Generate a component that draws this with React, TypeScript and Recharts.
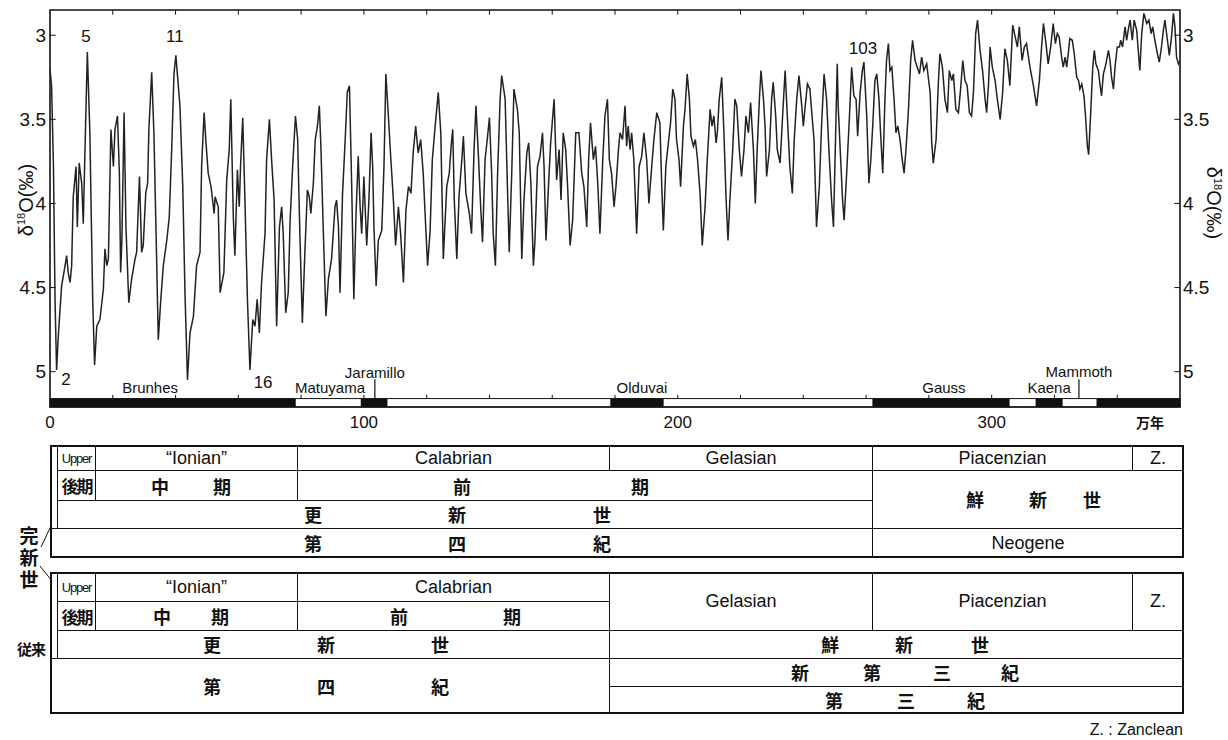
import {
  ComposedChart,
  Line,
  XAxis,
  YAxis,
  ReferenceArea,
  ReferenceLine,
  ReferenceDot,
} from "recharts";

// δ18O stack, [age in 万年, δ18O ‰]
const curve: [number, number][] = [
  [0, 3.2], [0.5, 3.3], [1.1, 3.78], [1.6, 4.57], [2.1, 4.99], [2.7, 4.77], [3.7, 4.49], [4.8, 4.37],
  [5.3, 4.31], [5.8, 4.41], [6.4, 4.47], [6.9, 4.37], [7.4, 3.96], [8.3, 3.78], [8.7, 4.14], [9.3, 3.76],
  [10.1, 3.88], [10.6, 4.12], [11.2, 3.64], [11.9, 3.1], [12.7, 3.58], [13.6, 4.57], [14.2, 4.96], [14.9, 4.73],
  [15.9, 4.69], [17.0, 4.51], [17.5, 4.27], [18.1, 4.37], [18.6, 4.33], [19.4, 3.56], [20.2, 3.78], [20.7, 3.56],
  [21.5, 3.48], [22.1, 3.82], [22.5, 4.41], [22.9, 4.22], [23.6, 3.46], [24.2, 4.14], [25.1, 4.59], [26.0, 4.45],
  [27.1, 4.33], [27.6, 4.29], [28.5, 3.84], [29.2, 4.29], [29.7, 4.25], [30.5, 3.94], [31.1, 3.88], [31.5, 3.56],
  [32.4, 3.22], [33.1, 3.58], [33.8, 4.18], [34.5, 4.81], [35.3, 4.57], [36.1, 4.37], [37.2, 4.22], [38.0, 4.08],
  [38.8, 3.66], [39.5, 3.23], [40.1, 3.12], [41.4, 3.42], [42.3, 3.9], [43.0, 4.53], [43.8, 5.05], [44.6, 4.77],
  [45.7, 4.67], [46.7, 4.37], [47.8, 4.29], [48.3, 3.78], [49.1, 3.46], [49.7, 3.64], [50.4, 3.82], [51.3, 3.9],
  [52.3, 4.06], [52.6, 3.96], [53.6, 4.02], [54.2, 4.53], [55.0, 4.45], [55.4, 4.41], [56.3, 3.86], [57.1, 3.68],
  [57.6, 3.38], [58.4, 4.08], [58.9, 4.31], [59.7, 3.8], [60.3, 4.02], [60.7, 3.78], [61.4, 3.49], [62.1, 3.98],
  [62.9, 4.57], [63.7, 4.99], [64.6, 4.69], [65.3, 4.73], [66.0, 4.57], [66.7, 4.77], [67.4, 4.47], [68.5, 4.18],
  [69.0, 3.74], [69.9, 3.5], [70.6, 3.74], [71.4, 3.98], [72.2, 4.73], [73.1, 4.14], [73.8, 4.02], [74.3, 4.18],
  [75.1, 4.65], [75.9, 4.53], [76.5, 4.1], [77.3, 3.78], [78.2, 3.48], [78.9, 3.62], [79.6, 4.18], [80.4, 4.71],
  [81.2, 4.29], [82.0, 3.92], [82.6, 3.96], [83.1, 4.06], [83.9, 3.88], [84.5, 3.62], [85.2, 3.54], [85.8, 3.42],
  [86.3, 3.66], [87.1, 4.18], [87.9, 4.67], [88.7, 4.45], [89.7, 4.33], [90.8, 4.02], [91.3, 3.98], [91.9, 4.14],
  [92.4, 4.53], [93.2, 3.94], [94.0, 3.64], [94.7, 3.34], [95.4, 3.3], [96.1, 3.88], [96.8, 4.57], [97.5, 4.06],
  [98.2, 3.72], [98.8, 4.02], [99.3, 4.18], [100.0, 3.84], [100.9, 4.25], [101.6, 3.98], [102.3, 3.58], [102.8, 3.78],
  [103.2, 4.14], [103.9, 4.49], [104.6, 4.22], [105.7, 4.16], [106.4, 3.78], [107.0, 3.23], [107.8, 3.48], [108.6, 3.74],
  [109.4, 3.98], [110.1, 4.25], [111.0, 4.02], [111.7, 4.18], [112.6, 4.47], [113.4, 4.04], [114.2, 3.9], [115.0, 3.94],
  [115.7, 3.7], [116.5, 3.54], [117.3, 3.7], [118.1, 3.62], [118.9, 3.82], [119.8, 4.18], [120.3, 4.37], [121.1, 4.16],
  [121.8, 3.74], [122.7, 3.54], [123.7, 3.34], [124.5, 3.58], [125.3, 4.33], [126.4, 3.9], [127.2, 3.82], [127.8, 3.66],
  [128.3, 3.56], [128.8, 3.98], [129.6, 4.33], [130.3, 3.96], [131.2, 3.74], [131.7, 3.6], [132.5, 3.94], [133.6, 4.06],
  [134.3, 4.18], [135.1, 3.68], [135.7, 3.42], [136.5, 3.72], [137.2, 4.02], [137.8, 4.23], [138.6, 3.74], [139.3, 3.62],
  [140.0, 3.49], [140.7, 3.82], [141.2, 4.18], [141.9, 4.37], [142.6, 3.82], [143.4, 3.38], [143.9, 3.24], [145.0, 3.38],
  [145.7, 3.88], [146.3, 4.29], [147.1, 3.82], [147.8, 3.32], [148.9, 3.44], [149.5, 3.58], [150.3, 4.33], [151.0, 3.98],
  [151.9, 3.7], [152.5, 3.64], [153.2, 3.88], [154.0, 4.37], [154.5, 4.22], [155.3, 3.78], [156.1, 3.72], [156.9, 3.58],
  [157.4, 3.78], [158.0, 4.22], [158.8, 3.9], [159.5, 3.64], [160.6, 3.38], [161.4, 3.86], [162.2, 3.68], [162.8, 3.98],
  [163.5, 3.58], [164.3, 3.68], [164.9, 3.9], [165.7, 4.25], [166.5, 4.1], [167.5, 3.58], [168.5, 3.58], [169.4, 3.82],
  [170.1, 3.9], [171.0, 4.14], [171.6, 3.74], [172.2, 3.52], [173.1, 3.74], [173.8, 3.66], [174.5, 3.88], [175.2, 4.18],
  [176.1, 3.74], [176.8, 3.48], [177.6, 3.38], [178.2, 3.74], [178.9, 3.82], [179.7, 4.02], [180.3, 3.9], [181.1, 3.68],
  [181.6, 3.58], [182.4, 3.62], [183.2, 3.42], [183.7, 3.66], [184.2, 3.54], [184.8, 3.68], [185.3, 3.58], [186.0, 3.74],
  [186.9, 4.18], [187.7, 3.78], [188.5, 3.72], [189.2, 3.58], [190.1, 3.74], [190.8, 4.0], [191.7, 3.78], [192.4, 3.62],
  [193.3, 3.46], [194.3, 3.52], [194.9, 3.9], [195.4, 4.16], [196.2, 3.78], [197.0, 3.64], [197.7, 3.52], [198.4, 3.32],
  [199.1, 3.38], [199.6, 3.62], [200.4, 3.74], [200.9, 3.9], [201.8, 3.54], [202.3, 3.44], [203.0, 3.23], [203.7, 3.38],
  [204.2, 3.6], [205.0, 3.66], [205.6, 3.62], [206.3, 3.74], [207.1, 3.94], [207.8, 4.25], [208.7, 4.02], [209.4, 3.74],
  [210.3, 3.44], [210.9, 3.54], [211.5, 3.48], [212.2, 3.64], [212.6, 3.58], [213.2, 3.38], [214.0, 3.25], [214.7, 3.58],
  [215.4, 3.98], [216.0, 4.22], [216.6, 3.98], [217.5, 3.68], [218.2, 3.38], [218.8, 3.42], [219.6, 3.68], [220.3, 3.84],
  [221.1, 3.68], [221.7, 3.48], [222.5, 3.58], [223.2, 3.4], [224.1, 3.68], [224.7, 4.0], [225.3, 3.68], [226.0, 3.38],
  [226.5, 3.21], [227.3, 3.38], [227.8, 3.54], [228.3, 3.84], [229.2, 3.68], [229.9, 3.38], [230.4, 3.28], [231.2, 3.48],
  [231.7, 3.68], [232.6, 3.76], [233.4, 3.48], [234.2, 3.21], [234.9, 3.48], [235.7, 3.78], [236.5, 3.94], [237.1, 3.62],
  [237.9, 3.38], [238.6, 3.24], [239.5, 3.42], [240.0, 3.54], [240.5, 3.44], [241.3, 3.29], [242.1, 3.32], [242.6, 3.44],
  [243.4, 3.62], [244.2, 4.14], [245.1, 3.9], [245.8, 3.54], [246.6, 3.23], [247.4, 3.38], [248.2, 3.7], [249.0, 3.98],
  [249.6, 4.14], [250.3, 3.58], [250.8, 3.17], [251.1, 3.42], [251.9, 3.74], [252.5, 3.98], [253.0, 4.1], [253.8, 3.82],
  [254.7, 3.48], [255.4, 3.19], [256.1, 3.36], [256.8, 3.38], [257.3, 3.6], [258.1, 3.34], [258.8, 3.21], [259.3, 3.16],
  [260.2, 3.48], [260.9, 3.88], [261.5, 3.74], [262.1, 3.54], [262.8, 3.27], [263.4, 3.23], [264.1, 3.38], [264.6, 3.58],
  [265.3, 3.82], [266.0, 3.38], [266.5, 3.15], [267.1, 3.05], [267.6, 3.21], [268.2, 3.19], [268.9, 3.38], [269.5, 3.58],
  [270.1, 3.54], [270.8, 3.62], [271.5, 3.74], [272.1, 3.82], [272.7, 3.68], [273.5, 3.44], [274.2, 3.15], [274.8, 3.03],
  [275.6, 3.15], [276.3, 3.19], [277.0, 3.23], [277.7, 3.13], [278.4, 3.21], [279.3, 3.17], [279.8, 3.25], [280.4, 3.34],
  [280.9, 3.64], [281.4, 3.76], [282.3, 3.62], [283.0, 3.29], [283.5, 3.11], [284.3, 3.19], [285.1, 3.38], [285.9, 3.46],
  [286.5, 3.21], [287.3, 3.27], [287.8, 3.23], [288.6, 3.44], [289.4, 3.46], [290.1, 3.32], [290.8, 3.15], [291.5, 3.27],
  [292.2, 3.3], [292.9, 3.46], [293.6, 3.48], [294.2, 3.34], [294.9, 2.99], [295.5, 2.91], [296.3, 3.09], [297.1, 3.21],
  [297.9, 3.38], [298.4, 3.46], [299.0, 3.29], [299.5, 3.07], [300.2, 3.19], [301.1, 3.27], [301.8, 3.38], [302.7, 3.5],
  [303.5, 3.34], [304.2, 3.08], [305.0, 3.15], [305.8, 3.3], [306.7, 2.94], [307.5, 3.01], [308.2, 3.07], [308.8, 2.95],
  [309.7, 3.15], [310.4, 3.07], [311.1, 3.05], [312.2, 3.19], [313.3, 3.3], [314.3, 3.42], [315.2, 3.27], [315.9, 3.07],
  [316.5, 2.93], [317.3, 3.05], [318.0, 3.17], [318.8, 3.07], [319.6, 2.93], [320.3, 3.05], [320.9, 2.99], [321.5, 3.01],
  [322.3, 3.13], [322.8, 3.19], [323.4, 3.13], [323.9, 3.19], [324.4, 3.11], [324.9, 3.02], [325.7, 3.03], [326.3, 3.11],
  [327.1, 3.25], [327.7, 3.27], [328.1, 3.32], [328.7, 3.29], [329.4, 3.36], [329.9, 3.48], [330.5, 3.66], [330.9, 3.71],
  [331.5, 3.48], [332.2, 3.19], [332.7, 3.09], [333.2, 3.17], [334.0, 3.21], [334.5, 3.29], [335.0, 3.36], [335.6, 3.23],
  [336.4, 3.17], [337.2, 3.09], [337.7, 3.15], [338.2, 3.25], [338.8, 3.32], [339.3, 3.19], [340.0, 3.07], [340.7, 3.07],
  [341.1, 3.03], [341.7, 3.07], [342.5, 2.95], [343.0, 3.03], [343.5, 2.97], [344.1, 2.91], [344.8, 3.03], [345.4, 2.91],
  [346.2, 2.97], [346.7, 3.09], [347.2, 3.21], [347.8, 2.99], [348.5, 2.87], [349.4, 2.93], [350.1, 2.91], [350.8, 2.99],
  [351.3, 2.95], [352.0, 3.03], [352.8, 3.11], [353.4, 3.16], [354.1, 3.07], [354.7, 2.97], [355.2, 2.91], [356.0, 3.03],
  [356.6, 3.12], [357.3, 3.01], [357.9, 2.87], [358.4, 2.95], [358.9, 3.13], [359.5, 3.17], [360, 3.15],
];

const xLabelTicks = [0, 100, 200, 300];
const xMinorTicks = [20, 40, 60, 80, 100, 120, 140, 160, 180, 200, 220, 240, 260, 280, 300, 320, 340];
const yTicks = [3, 3.5, 4, 4.5, 5];

// normal polarity (black) intervals, 万年
const normalPolarity: [number, number][] = [
  [0, 78.3], [99, 107.5], [178.5, 195.5], [262, 305.7], [314, 322.6], [333.4, 360],
];

const chronNames = ["Brunhes", "Matuyama", "Jaramillo", "Olduvai", "Gauss", "Kaena", "Mammoth"];
const chronAt: [number, number][] = [
  [31.9, 5.093], [89.2, 5.093], [103.5, 5.004], [188.6, 5.093], [284.8, 5.093], [318.3, 5.093], [327.8, 5.0],
];
const subchronMarks = [103.5, 327.8];

const stageNumbers = ["2", "5", "11", "16", "103"];
const stageAt: [number, number][] = [
  [5.1, 5.046], [11.5, 3.004], [39.8, 3.004], [67.9, 5.064], [259, 3.076],
];

const Y_DOMAIN: [number, number] = [2.85, 5.21];
const BAR_TOP = 5.16;

const SANS = "'Liberation Sans Narrow', 'Liberation Sans', Arial, sans-serif";
const CJK = "'Noto Sans CJK JP', sans-serif";
const INK = "#111";

const data = curve.map(([age, d]) => ({ age, d }));

function Box({ x1, x2, y1, y2, bw = 1, children }: any) {
  return (
    <div
      style={{
        position: "absolute",
        left: x1,
        top: y1,
        width: x2 - x1 + 1,
        height: y2 - y1 + 1,
        border: `${bw}px solid ${INK}`,
        boxSizing: "border-box",
        display: "flex",
        alignItems: "center",
        justifyContent: "center",
        fontFamily: SANS,
        fontSize: 18,
        color: INK,
        whiteSpace: "nowrap",
        overflow: "hidden",
      }}
    >
      {children}
    </div>
  );
}

function Chars({ text, xs, ys, size = 18 }: { text: string; xs: number[]; ys: number[]; size?: number }) {
  return (
    <>
      {Array.from(text).map((c, i) => (
        <span
          key={i}
          style={{
            position: "absolute",
            left: xs[i],
            top: ys[i],
            transform: "translate(-50%, -50%)",
            fontFamily: CJK,
            fontWeight: 700,
            fontSize: size,
            lineHeight: 1,
            color: INK,
          }}
        >
          {c}
        </span>
      ))}
    </>
  );
}

const row = (n: number, y: number) => Array(n).fill(y);

const small = { fontSize: 13, letterSpacing: -1.2 };
const kouki = { fontFamily: CJK, fontWeight: 700, fontSize: 17, letterSpacing: -2 };

function Tables() {
  return (
    <>
      {/* new definition */}
      <Box x1={50} x2={57} y1={445} y2={528} />
      <Box x1={57} x2={95} y1={445} y2={470}><span style={small}>Upper</span></Box>
      <Box x1={95} x2={297} y1={445} y2={470}>“Ionian”</Box>
      <Box x1={297} x2={609} y1={445} y2={470}>Calabrian</Box>
      <Box x1={609} x2={872} y1={445} y2={470}>Gelasian</Box>
      <Box x1={872} x2={1132} y1={445} y2={470}>Piacenzian</Box>
      <Box x1={1132} x2={1183} y1={445} y2={470}>Z.</Box>
      <Box x1={57} x2={95} y1={470} y2={500}><span style={kouki}>後期</span></Box>
      <Box x1={95} x2={297} y1={470} y2={500} />
      <Box x1={297} x2={872} y1={470} y2={500} />
      <Box x1={872} x2={1183} y1={470} y2={528} />
      <Box x1={57} x2={872} y1={500} y2={528} />
      <Box x1={50} x2={872} y1={528} y2={557} />
      <Box x1={872} x2={1183} y1={528} y2={557}>Neogene</Box>
      <Box x1={50} x2={1183} y1={445} y2={557} bw={2} />
      <Chars text="中期" xs={[160, 222]} ys={row(2, 486)} />
      <Chars text="前期" xs={[462, 640]} ys={row(2, 486)} />
      <Chars text="更新世" xs={[313, 457, 602]} ys={row(3, 514)} />
      <Chars text="第四紀" xs={[313, 457, 602]} ys={row(3, 543)} />
      <Chars text="鮮新世" xs={[975, 1038, 1092]} ys={row(3, 499)} />

      {/* conventional */}
      <Box x1={50} x2={57} y1={572} y2={658} />
      <Box x1={57} x2={95} y1={572} y2={601}><span style={small}>Upper</span></Box>
      <Box x1={95} x2={297} y1={572} y2={601}>“Ionian”</Box>
      <Box x1={297} x2={609} y1={572} y2={601}>Calabrian</Box>
      <Box x1={609} x2={872} y1={572} y2={630}>Gelasian</Box>
      <Box x1={872} x2={1132} y1={572} y2={630}>Piacenzian</Box>
      <Box x1={1132} x2={1183} y1={572} y2={630}>Z.</Box>
      <Box x1={57} x2={95} y1={601} y2={630}><span style={kouki}>後期</span></Box>
      <Box x1={95} x2={297} y1={601} y2={630} />
      <Box x1={297} x2={609} y1={601} y2={630} />
      <Box x1={57} x2={609} y1={630} y2={658} />
      <Box x1={609} x2={1183} y1={630} y2={658} />
      <Box x1={50} x2={609} y1={658} y2={713} />
      <Box x1={609} x2={1183} y1={658} y2={686} />
      <Box x1={609} x2={1183} y1={686} y2={713} />
      <Box x1={50} x2={1183} y1={572} y2={713} bw={2} />
      <Chars text="中期" xs={[162, 220]} ys={row(2, 616)} />
      <Chars text="前期" xs={[399, 512]} ys={row(2, 616)} />
      <Chars text="更新世" xs={[212, 326, 440]} ys={row(3, 644)} />
      <Chars text="第四紀" xs={[212, 326, 440]} ys={row(3, 686)} />
      <Chars text="鮮新世" xs={[830, 904, 980]} ys={row(3, 644)} />
      <Chars text="新第三紀" xs={[800, 872, 942, 1010]} ys={row(4, 672)} />
      <Chars text="第三紀" xs={[834, 906, 976]} ys={row(3, 700)} />

      {/* side labels */}
      <div
        style={{
          position: "absolute",
          left: 29,
          top: 559,
          transform: "translate(-50%, -50%)",
          writingMode: "vertical-rl",
          textOrientation: "upright",
          fontFamily: CJK,
          fontWeight: 700,
          fontSize: 19,
          lineHeight: 1,
          letterSpacing: 3,
          color: INK,
        }}
      >
        完新世
      </div>
      <span
        style={{
          position: "absolute",
          left: 31,
          top: 648,
          transform: "translate(-50%,-50%)",
          fontFamily: CJK,
          fontWeight: 700,
          fontSize: 15,
          lineHeight: 1,
          letterSpacing: -1,
          color: INK,
        }}
      >
        従来
      </span>
      <svg width={1228} height={740} style={{ position: "absolute", left: 0, top: 0, pointerEvents: "none" }}>
        <line x1={41} y1={547} x2={51} y2={526} stroke={INK} strokeWidth={1} />
        <line x1={40} y1={566} x2={52} y2={581} stroke={INK} strokeWidth={1} />
      </svg>
      <span style={{ position: "absolute", right: 1228 - 1183, top: 721, fontFamily: SANS, fontSize: 16, color: INK }}>
        Z. : Zanclean
      </span>
    </>
  );
}

const tickText = { fontFamily: SANS, fontSize: 19, fill: INK };

const XTick = ({ x, payload }: any) => (
  <text x={x} y={422} dy="0.35em" textAnchor="middle" {...tickText} fontSize={17}>
    {payload.value}
  </text>
);
const LTick = ({ y, payload }: any) => (
  <text x={46} y={y} dy="0.35em" textAnchor="end" {...tickText}>
    {payload.value}
  </text>
);
const RTick = ({ y, payload }: any) => (
  <text x={1183} y={y} dy="0.35em" textAnchor="start" {...tickText}>
    {payload.value}
  </text>
);

const labelStyle = { fontFamily: SANS, fill: INK };

function AxisTitle({ x, y, rotate }: { x: number; y: number; rotate: number }) {
  return (
    <div
      style={{
        position: "absolute",
        left: x,
        top: y,
        transform: `translate(-50%, -50%) rotate(${rotate}deg)`,
        fontFamily: SANS,
        fontSize: 20,
        color: INK,
        whiteSpace: "nowrap",
      }}
    >
      δ<sup style={{ fontSize: 11 }}>18</sup>O(‰)
    </div>
  );
}

export default function App() {
  return (
    <div style={{ position: "absolute", left: 0, top: 0, width: 1228, height: 740, background: "#fff", overflow: "hidden" }}>
      <ComposedChart width={1228} height={440} data={data} margin={{ top: 10, right: 0, bottom: 0, left: 0 }}>
        <XAxis
          type="number"
          dataKey="age"
          domain={[0, 360]}
          ticks={xLabelTicks}
          interval={0}
          axisLine={false}
          tickLine={false}
          height={33}
          tick={XTick}
          allowDataOverflow
        />
        <YAxis
          domain={Y_DOMAIN}
          reversed
          ticks={yTicks}
          interval={0}
          width={50}
          axisLine={false}
          tickLine={false}
          tick={LTick}
          allowDataOverflow
        />
        <YAxis
          yAxisId="r"
          orientation="right"
          domain={Y_DOMAIN}
          reversed
          ticks={yTicks}
          interval={0}
          width={48}
          axisLine={false}
          tickLine={false}
          tick={RTick}
          allowDataOverflow
        />
        <Line
          type="linear"
          dataKey="d"
          stroke="#222"
          strokeWidth={1.5}
          dot={false}
          isAnimationActive={false}
        />
        {/* polarity bar */}
        <ReferenceArea x1={0} x2={360} y1={BAR_TOP} y2={Y_DOMAIN[1]} fill="#fff" fillOpacity={1} stroke={INK} strokeWidth={1} />
        {normalPolarity.map(([a, b], i) => (
          <ReferenceArea key={i} x1={a} x2={b} y1={BAR_TOP} y2={Y_DOMAIN[1]} fill={INK} fillOpacity={1} stroke="none" />
        ))}
        {subchronMarks.map((a) => (
          <ReferenceLine key={a} segment={[{ x: a, y: 5.045 }, { x: a, y: BAR_TOP }]} stroke={INK} strokeWidth={1.2} />
        ))}
        {/* frame */}
        <ReferenceArea x1={0} x2={360} y1={Y_DOMAIN[0]} y2={Y_DOMAIN[1]} fill="none" stroke={INK} strokeWidth={1.6} />
        {xMinorTicks.map((t) => (
          <ReferenceLine key={"t" + t} segment={[{ x: t, y: Y_DOMAIN[0] }, { x: t, y: 2.878 }]} stroke={INK} />
        ))}
        {xMinorTicks.map((t) => (
          <ReferenceLine key={"b" + t} segment={[{ x: t, y: BAR_TOP }, { x: t, y: 5.138 }]} stroke={INK} />
        ))}
        {yTicks.map((v) => (
          <ReferenceLine key={"l" + v} segment={[{ x: 0, y: v }, { x: 1.8, y: v }]} stroke={INK} />
        ))}
        {yTicks.map((v) => (
          <ReferenceLine key={"r" + v} segment={[{ x: 358.2, y: v }, { x: 360, y: v }]} stroke={INK} />
        ))}
        {chronNames.map((n, i) => (
          <ReferenceDot
            key={n}
            x={chronAt[i][0]}
            y={chronAt[i][1]}
            r={0.5}
            fill="none"
            stroke="none"
            label={{ value: n, position: "center", fontSize: 15, ...labelStyle }}
          />
        ))}
        {stageNumbers.map((n, i) => (
          <ReferenceDot
            key={n}
            x={stageAt[i][0]}
            y={stageAt[i][1]}
            r={0.5}
            fill="none"
            stroke="none"
            label={{ value: n, position: "center", fontSize: 17, ...labelStyle }}
          />
        ))}
      </ComposedChart>
      <AxisTitle x={26} y={200} rotate={-90} />
      <AxisTitle x={1213} y={203} rotate={90} />
      <span
        style={{
          position: "absolute",
          left: 1150,
          top: 422,
          transform: "translate(-50%, -50%)",
          fontFamily: CJK,
          fontWeight: 700,
          fontSize: 14,
          color: INK,
        }}
      >
        万年
      </span>
      <Tables />
    </div>
  );
}
